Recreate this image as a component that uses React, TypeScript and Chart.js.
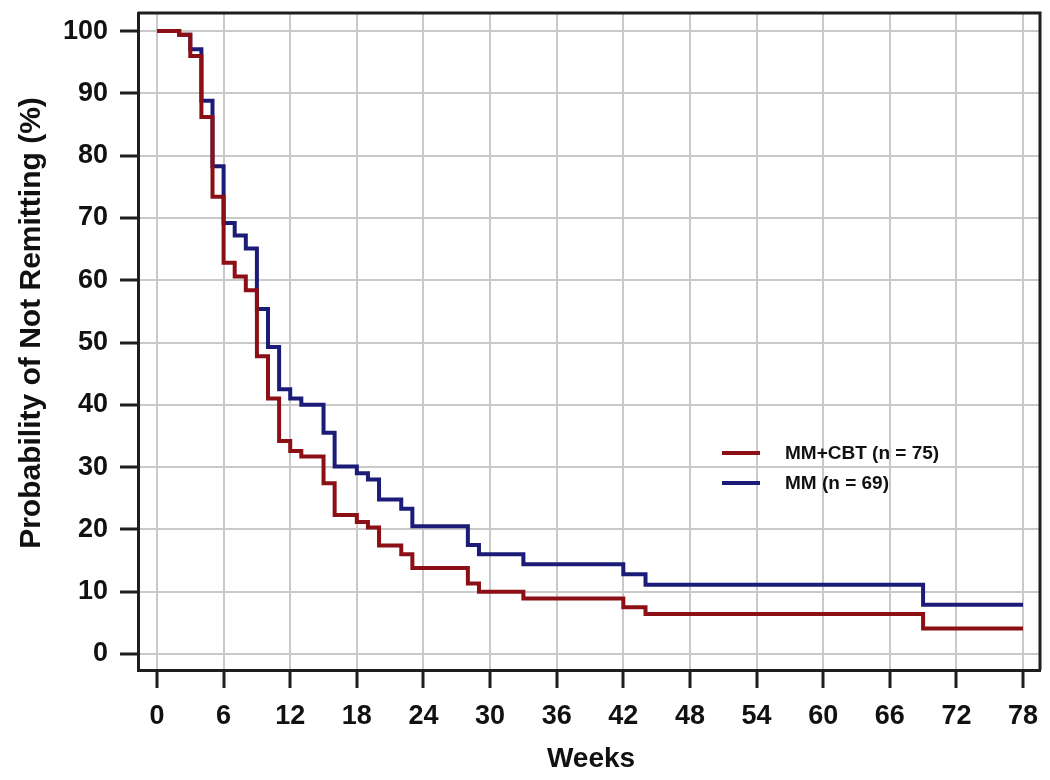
import React, { useEffect, useRef } from "react";
import { Chart, registerables } from "chart.js";

Chart.register(...registerables);

const WEEKS_CBT = [0, 2, 3, 4, 5, 6, 7, 8, 9, 10, 11, 12, 13, 15, 16, 18, 19, 20, 22, 23, 28, 29, 33, 42, 44, 69, 78];
const SURV_CBT = [100, 99.4, 96, 86.2, 73.4, 62.8, 60.6, 58.4, 47.8, 41, 34.2, 32.6, 31.7, 27.4, 22.3, 21.2, 20.3, 17.4, 16, 13.8, 11.3, 10, 8.9, 7.5, 6.4, 4.1, 4.1];

const WEEKS_MM = [0, 2, 3, 4, 5, 6, 7, 8, 9, 10, 11, 12, 13, 15, 16, 18, 19, 20, 22, 23, 28, 29, 33, 42, 44, 69, 78];
const SURV_MM = [100, 99.4, 97.1, 88.8, 78.3, 69.2, 67.2, 65.1, 55.4, 49.3, 42.5, 41, 40, 35.5, 30.1, 29, 28, 24.8, 23.3, 20.5, 17.5, 16, 14.4, 12.8, 11.1, 7.9, 7.9];

const X_TICKS = [0, 6, 12, 18, 24, 30, 36, 42, 48, 54, 60, 66, 72, 78];
const Y_TICKS = [0, 10, 20, 30, 40, 50, 60, 70, 80, 90, 100];

const LABEL_CBT = "MM+CBT (n = 75)";
const LABEL_MM = "MM (n = 69)";
const X_TITLE = "Weeks";
const Y_TITLE = "Probability of Not Remitting (%)";

const RED = "#8c0f16";
const BLUE = "#1b1b78";
const FONT = "'Liberation Sans', Arial, sans-serif";

const decorPlugin = {
  id: "decor",
  afterDraw(chart: any) {
    const ctx = chart.ctx;
    const a = chart.chartArea;
    ctx.save();
    ctx.strokeStyle = "#1e1e1e";
    ctx.lineWidth = 3;
    ctx.beginPath();
    ctx.moveTo(a.left, a.top);
    ctx.lineTo(a.right, a.top);
    ctx.lineTo(a.right, a.bottom);
    ctx.stroke();

    const rows = chart.data.datasets.map((d: any) => ({ label: d.label, color: d.borderColor }));
    const lx1 = 722, lx2 = 760, tx = 785;
    const ys = [453, 483];
    ctx.font = `bold 19px ${FONT}`;
    ctx.textBaseline = "middle";
    ctx.textAlign = "left";
    rows.forEach((r: any, i: number) => {
      ctx.strokeStyle = r.color;
      ctx.lineWidth = 4;
      ctx.beginPath();
      ctx.moveTo(lx1, ys[i]);
      ctx.lineTo(lx2, ys[i]);
      ctx.stroke();
      ctx.fillStyle = "#111";
      ctx.fillText(r.label, tx, ys[i] + 1);
    });

    ctx.fillStyle = "#111";
    ctx.textAlign = "center";
    ctx.textBaseline = "middle";
    ctx.font = `bold 28px ${FONT}`;
    ctx.fillText(X_TITLE, 591, 759);
    ctx.font = `bold 30px ${FONT}`;
    ctx.translate(32, 323);
    ctx.rotate(-Math.PI / 2);
    ctx.fillText(Y_TITLE, 0, 0);
    ctx.restore();
  },
};

const zeroPad = (s: any) => {
  s.paddingTop = 0;
  s.paddingBottom = 0;
  s.paddingLeft = 0;
  s.paddingRight = 0;
};

export default function App() {
  const ref = useRef<HTMLCanvasElement | null>(null);
  useEffect(() => {
    if (!ref.current) return;
    const chart = new Chart(ref.current, {
      type: "line",
      data: {
        datasets: [
          {
            label: LABEL_CBT,
            data: WEEKS_CBT.map((w, i) => ({ x: w, y: SURV_CBT[i] })),
            borderColor: RED,
            backgroundColor: RED,
            borderWidth: 4,
            stepped: "before",
            pointRadius: 0,
            fill: false,
          },
          {
            label: LABEL_MM,
            data: WEEKS_MM.map((w, i) => ({ x: w, y: SURV_MM[i] })),
            borderColor: BLUE,
            backgroundColor: BLUE,
            borderWidth: 4,
            stepped: "before",
            pointRadius: 0,
            fill: false,
          },
        ],
      },
      options: {
        responsive: false,
        animation: false,
        devicePixelRatio: 1,
        layout: { padding: { left: 0, top: 13, right: 10, bottom: 0 } },
        plugins: {
          legend: { display: false },
          tooltip: { enabled: false },
        },
        scales: {
          x: {
            type: "linear",
            min: -1.71,
            max: 79.53,
            afterBuildTicks: (s: any) => {
              s.ticks = X_TICKS.map((v) => ({ value: v }));
            },
            afterFit: (s: any) => {
              s.height = 110;
              zeroPad(s);
            },
            grid: {
              color: "#c9c9c9",
              lineWidth: 2,
              tickLength: 18,
              tickColor: "#1e1e1e",
              tickWidth: 3,
            },
            border: { display: true, color: "#1e1e1e", width: 3 },
            ticks: {
              autoSkip: false,
              maxRotation: 0,
              padding: 12,
              color: "#111",
              font: { family: FONT, size: 27, weight: "bold" },
            },
          },
          y: {
            type: "linear",
            min: -2.57,
            max: 102.9,
            afterBuildTicks: (s: any) => {
              s.ticks = Y_TICKS.map((v) => ({ value: v }));
            },
            afterFit: (s: any) => {
              s.width = 138;
              zeroPad(s);
            },
            grid: {
              color: "#c9c9c9",
              lineWidth: 2,
              tickLength: 18,
              tickColor: "#1e1e1e",
              tickWidth: 3,
            },
            border: { display: true, color: "#1e1e1e", width: 3 },
            ticks: {
              autoSkip: false,
              padding: 12,
              color: "#111",
              font: { family: FONT, size: 27, weight: "bold" },
            },
          },
        },
      },
      plugins: [decorPlugin],
    } as any);
    return () => chart.destroy();
  }, []);

  return (
    <div style={{ position: "absolute", left: 0, top: 0, width: 1050, height: 780, background: "#fff" }}>
      <canvas ref={ref} width={1050} height={780} style={{ display: "block" }} />
    </div>
  );
}
